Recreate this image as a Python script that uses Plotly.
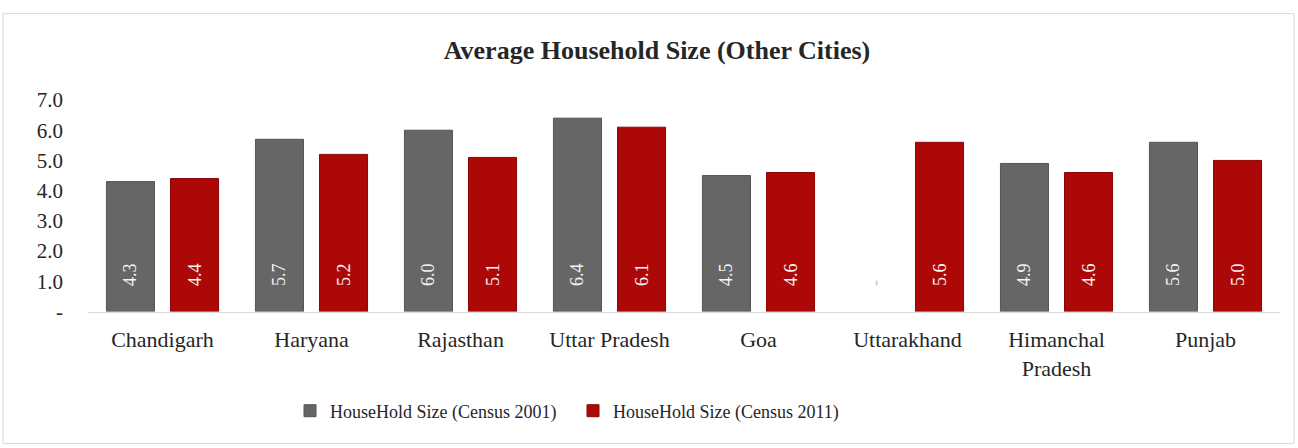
import plotly.graph_objects as go

# Average household size by state, two census rounds
states = ["Chandigarh", "Haryana", "Rajasthan", "Uttar Pradesh", "Goa",
          "Uttarakhand", "Himanchal<br>Pradesh", "Punjab"]
size_2001 = [4.3, 5.7, 6.0, 6.4, 4.5, 0.0, 4.9, 5.6]
size_2011 = [4.4, 5.2, 5.1, 6.1, 4.6, 5.6, 4.6, 5.0]

y_ticks = [0, 1, 2, 3, 4, 5, 6, 7]
y_tick_text = ["-", "1.0", "2.0", "3.0", "4.0", "5.0", "6.0", "7.0"]

W, H = 1298, 448
L, R, T, B = 88, 18, 100, 135
SERIF = "Liberation Serif, Times New Roman, serif"
LIFT = "\u00a0" * 5  # raises the value labels off the bar base


def labels(vals):
    return [LIFT + ("-" if v == 0 else f"{v:.1f}") for v in vals]


def positions(vals):
    return ["outside" if v == 0 else "inside" for v in vals]


def label_colors(vals):
    return ["#c8c8c8" if v == 0 else "#f4f4f4" for v in vals]


def edge_widths(vals):
    return [0 if v == 0 else 1 for v in vals]


fig = go.Figure()
fig.add_trace(go.Bar(
    name="HouseHold Size (Census 2001)", x=states, y=size_2001,
    marker=dict(color="#666666",
                line=dict(color="#555555", width=edge_widths(size_2001))),
    text=labels(size_2001), textposition=positions(size_2001),
    insidetextanchor="start", textangle=-90,
    textfont=dict(family=SERIF, size=18, color=label_colors(size_2001)),
    cliponaxis=False,
))
fig.add_trace(go.Bar(
    name="HouseHold Size (Census 2011)", x=states, y=size_2011,
    marker=dict(color="#ad0808",
                line=dict(color="#8a0606", width=edge_widths(size_2011))),
    text=labels(size_2011), textposition=positions(size_2011),
    insidetextanchor="start", textangle=-90,
    textfont=dict(family=SERIF, size=18, color=label_colors(size_2011)),
    cliponaxis=False,
))

pw = W - L - R
ph = H - T - B


def px_x(p):
    return (p - L) / pw


def px_y(p):
    return (H - B - p) / ph


fig.update_layout(
    width=W, height=H,
    margin=dict(l=L, r=R, t=T, b=B),
    paper_bgcolor="white", plot_bgcolor="white",
    barmode="group", bargap=0.14, bargroupgap=0.25,
    uniformtext=dict(minsize=8, mode="show"),
    font=dict(family=SERIF, color="#262626"),
    title=dict(text="<b>Average Household Size (Other Cities)</b>",
               font=dict(family=SERIF, size=26, color="#262626"),
               x=657 / W, xref="container", xanchor="center",
               y=1 - 50 / H, yref="container", yanchor="middle"),
    xaxis=dict(showgrid=False, showline=True, linecolor="#d9d9d9",
               linewidth=1, ticks="", ticklabelstandoff=8,
               tickfont=dict(family=SERIF, size=22, color="#262626")),
    yaxis=dict(range=[0, 7], tickvals=y_ticks, ticktext=y_tick_text,
               showgrid=False, zeroline=False, showline=False, ticks="",
               ticklabelstandoff=24,
               tickfont=dict(family=SERIF, size=21, color="#262626")),
    legend=dict(orientation="h", xref="container", yref="container",
                x=290 / W, xanchor="left", y=1 - 411 / H, yanchor="middle",
                itemwidth=30, entrywidth=238, entrywidthmode="pixels",
                font=dict(family=SERIF, size=18, color="#262626")),
    shapes=[dict(type="rect", xref="paper", yref="paper",
                 x0=px_x(3), x1=px_x(1294), y0=px_y(446), y1=px_y(13),
                 line=dict(color="#d9d9d9", width=1), layer="below")],
)

fig.write_html("out.html")
